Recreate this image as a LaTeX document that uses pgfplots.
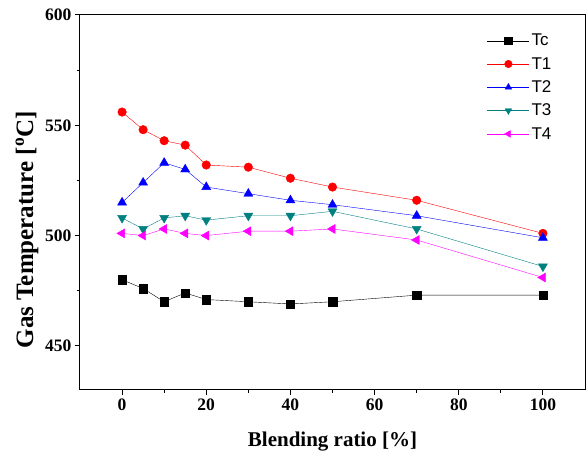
\documentclass[border=0pt]{standalone}
\usepackage{fontspec}
\setmainfont{Liberation Serif}
\newfontfamily\arial{Liberation Sans}
\usepackage{pgfplots}
\pgfplotsset{compat=1.18}

\definecolor{cred}{RGB}{255,0,0}
\definecolor{cblue}{RGB}{0,0,255}
\definecolor{cteal}{RGB}{0,128,128}
\definecolor{cmag}{RGB}{255,0,255}

\begin{document}
\begin{tikzpicture}
\begin{axis}[
    scale only axis,
    width=505pt, height=375pt,
    xmin=-10, xmax=110, ymin=430, ymax=600,
    xtick={0,20,...,100}, ytick={450,500,550,600},
    minor xtick={10,30,...,90}, minor ytick={475,525,575},
    axis line style={line width=1pt},
    tick style={black, line width=1pt},
    major tick length=5pt, minor tick length=3pt,
    tick align=outside,
    xtick pos=bottom, ytick pos=left,
    /pgf/number format/assume math mode=true,
    ticklabel style={font=\bfseries\fontsize{17.5}{17.5}\selectfont},
    xlabel={Blending ratio [\%]},
    ylabel={Gas Temperature [\textsuperscript{o}C]},
    xlabel style={font=\bfseries\fontsize{21}{21}\selectfont, yshift=-15pt},
    ylabel style={font=\bfseries\fontsize{25}{25}\selectfont, at={(ticklabel cs:0.427)}},
    legend style={draw=none, fill=none, at={(0.80,0.96)}, anchor=north west,
        font=\arial\fontsize{17}{17}\selectfont, row sep=6pt,
        legend cell align=left},
    legend image code/.code={
        \draw[#1, mark repeat=2, mark phase=2, mark size=3.8pt]
        plot coordinates {(0pt,0pt) (21pt,0pt) (42pt,0pt)};},
]
\addplot[black, thin, mark=square*, mark size=4.2pt, mark options={fill=black}]
coordinates {(0,480) (5,476) (10,470) (15,474) (20,471) (30,470) (40,469) (50,470) (70,473) (100,473)};
\addplot[cred, thin, mark=*, mark size=4.3pt, mark options={fill=cred}]
coordinates {(0,556) (5,548) (10,543) (15,541) (20,532) (30,531) (40,526) (50,522) (70,516) (100,501)};
\addplot[cblue, thin, mark=triangle*, mark size=5.2pt, mark options={fill=cblue}]
coordinates {(0,515) (5,524) (10,533) (15,530) (20,522) (30,519) (40,516) (50,514) (70,509) (100,499)};
\addplot[cteal, thin, mark=triangle*, mark size=5.2pt, mark options={fill=cteal, rotate=180}]
coordinates {(0,508) (5,503) (10,508) (15,509) (20,507) (30,509) (40,509) (50,511) (70,503) (100,486)};
\addplot[cmag, thin, mark=triangle*, mark size=5.2pt, mark options={fill=cmag, rotate=90}]
coordinates {(0,501) (5,500) (10,503) (15,501) (20,500) (30,502) (40,502) (50,503) (70,498) (100,481)};
\legend{Tc, T1, T2, T3, T4}
\end{axis}
\pgfresetboundingbox
\path ([shift={(-80pt,-66pt)}]current axis.south west) rectangle ([shift={(2pt,15pt)}]current axis.north east);
\end{tikzpicture}
\end{document}
